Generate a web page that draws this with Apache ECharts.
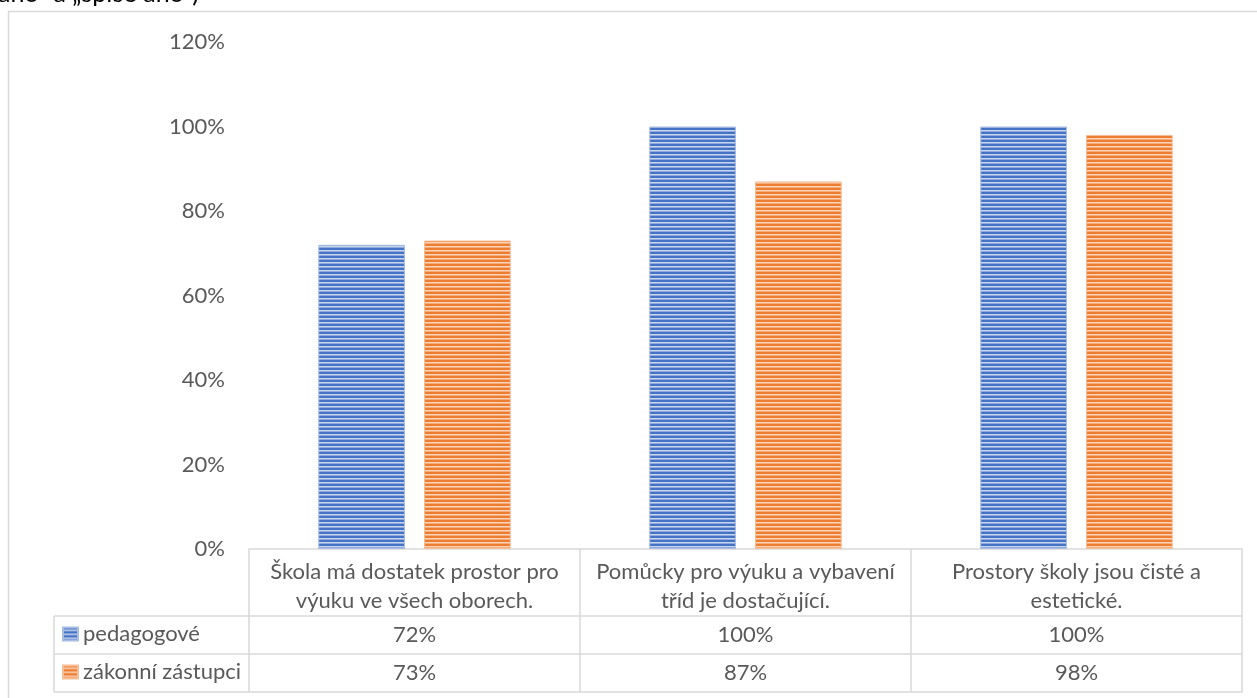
<!DOCTYPE html>
<html>
<head>
<meta charset="utf-8">
<script src="https://cdn.jsdelivr.net/npm/echarts@6/dist/echarts.min.js"></script>
<style>
html,body{margin:0;padding:0;background:#fff;}
#chart{width:1257px;height:698px;}
</style>
</head>
<body>
<div id="chart"></div>
<script>
const categories = [
  'Škola má dostatek prostor pro\nvýuku ve všech oborech.',
  'Pomůcky pro výuku a vybavení\ntříd je dostačující.',
  'Prostory školy jsou čisté a\nestetické.'
];
const seriesNames = ['pedagogové', 'zákonní zástupci'];
const pedagogove = [72, 100, 100];
const zakonniZastupci = [73, 87, 98];
const yTicks = [0, 20, 40, 60, 80, 100, 120];
const headerFragment = 'ano“ a „spíše ano“)';

const FONT = 'Lato';
const FS = 22;
const TEXT = '#595959';
const LINE = '#d9d9d9';
const GL = 249, GR = 15, GT = 42, GB = 149;
const H = 698;
const axisY = H - GB;          // 549
const row1 = axisY + 67;       // 616
const row2 = axisY + 105;      // 654
const row3 = axisY + 143;      // 692
const legLeft = 54;

function stripes(dark, light, mid) {
  const c = document.createElement('canvas');
  c.width = 8; c.height = 4;
  const g = c.getContext('2d');
  g.fillStyle = dark; g.fillRect(0, 0, 8, 2);
  g.fillStyle = light; g.fillRect(0, 2, 8, 1);
  g.fillStyle = mid; g.fillRect(0, 3, 8, 1);
  return { image: c, repeat: 'repeat' };
}
const bluePat = stripes('#4472C4', '#C9D6EE', '#8EA9DB');
const orangePat = stripes('#ED7D31', '#FAD3B8', '#F4AC7A');

const pct = v => v + '%';

const chart = echarts.init(document.getElementById('chart'), null, { renderer: 'canvas' });

const valueAxis = (offset, values) => ({
  type: 'category',
  data: categories,
  position: 'bottom',
  offset: offset,
  axisLine: { show: true, lineStyle: { color: LINE, width: 1.5 } },
  axisTick: { show: false },
  axisLabel: values ? {
    show: true, interval: 0, margin: 6,
    fontFamily: FONT, fontSize: FS, lineHeight: 26, color: TEXT,
    formatter: (v, i) => pct(values[i])
  } : { show: false },
  splitLine: { show: false }
});

chart.setOption({
  animation: false,
  backgroundColor: '#fff',
  textStyle: { fontFamily: FONT },
  grid: { left: GL, right: GR, top: GT, bottom: GB, containLabel: false },
  legend: {
    data: seriesNames,
    orient: 'vertical',
    left: 62, top: 621, padding: 0,
    itemWidth: 15, itemHeight: 13, itemGap: 12,
    icon: 'rect',
    textStyle: { fontFamily: FONT, fontSize: FS, lineHeight: 26, color: TEXT },
    selectedMode: false
  },
  xAxis: [
    {
      type: 'category',
      data: categories,
      position: 'bottom',
      axisLine: { show: true, lineStyle: { color: LINE, width: 1.5 } },
      axisTick: { show: true, interval: 0, length: row3 - axisY, lineStyle: { color: LINE, width: 1.5 } },
      axisLabel: {
        interval: 0, margin: 8,
        fontFamily: FONT, fontSize: FS, lineHeight: 29, color: TEXT,
        align: 'center'
      }
    },
    valueAxis(67, pedagogove),
    valueAxis(105, zakonniZastupci),
    valueAxis(143, null)
  ],
  yAxis: {
    type: 'value',
    min: yTicks[0], max: yTicks[yTicks.length - 1], interval: 20,
    axisLine: { show: false },
    axisTick: { show: false },
    splitLine: { show: false },
    axisLabel: { margin: 24, fontFamily: FONT, fontSize: FS, color: TEXT, formatter: v => pct(v) }
  },
  series: [
    {
      name: seriesNames[0], type: 'bar', data: pedagogove,
      barWidth: '26.2%', barGap: '22%',
      itemStyle: { color: bluePat, borderColor: '#A9BDE3', borderWidth: 1 }
    },
    {
      name: seriesNames[1], type: 'bar', data: zakonniZastupci,
      barWidth: '26.2%', barGap: '22%',
      itemStyle: { color: orangePat, borderColor: '#F6BE96', borderWidth: 1 }
    }
  ],
  graphic: [
    {
      type: 'rect', silent: true, z: -1,
      shape: { x: 8.5, y: 11.5, width: 1300, height: 800 },
      style: { fill: null, stroke: LINE, lineWidth: 1.5 }
    },
    {
      type: 'text', silent: true,
      left: -2, top: -19,
      style: { text: headerFragment, fontFamily: FONT, fontSize: 25, fill: '#000' }
    },
    {
      type: 'group', silent: true,
      children: [
        { type: 'line', shape: { x1: legLeft, y1: row1, x2: GL, y2: row1 }, style: { stroke: LINE, lineWidth: 1.5 } },
        { type: 'line', shape: { x1: legLeft, y1: row2, x2: GL, y2: row2 }, style: { stroke: LINE, lineWidth: 1.5 } },
        { type: 'line', shape: { x1: legLeft, y1: row3, x2: GL, y2: row3 }, style: { stroke: LINE, lineWidth: 1.5 } },
        { type: 'line', shape: { x1: legLeft, y1: row1, x2: legLeft, y2: row3 }, style: { stroke: LINE, lineWidth: 1.5 } }
      ]
    }
  ]
});
</script>
</body>
</html>
